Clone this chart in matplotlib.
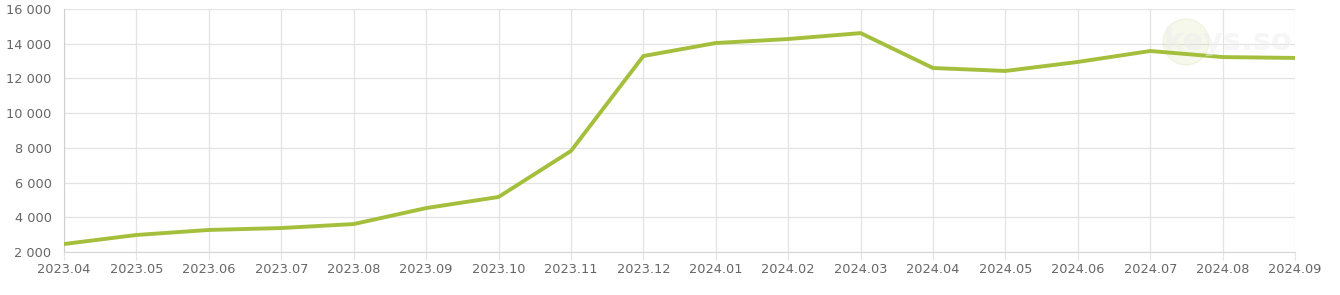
import numpy as np
import matplotlib.pyplot as plt
from matplotlib.patches import Ellipse
from matplotlib.ticker import FuncFormatter

months = ['2023.04', '2023.05', '2023.06', '2023.07', '2023.08', '2023.09',
          '2023.10', '2023.11', '2023.12', '2024.01', '2024.02', '2024.03',
          '2024.04', '2024.05', '2024.06', '2024.07', '2024.08', '2024.09']
values = [2460, 2980, 3270, 3380, 3610, 4530, 5170, 7820, 13290, 14040,
          14270, 14610, 12600, 12430, 12950, 13580, 13230, 13180]
yticks = [2000, 4000, 6000, 8000, 10000, 12000, 14000, 16000]

fig = plt.figure(figsize=(13.4, 2.95), dpi=100)
ax = fig.add_axes([0.0478, 0.1458, 0.9187, 0.8237])

x = np.arange(len(months))
ax.plot(x, values, color='#a3bf3c', lw=2.8, solid_joinstyle='miter', zorder=3)

ax.set_xlim(0, len(months) - 1)
ax.set_ylim(2000, 16000)
ax.set_xticks(x)
ax.set_xticklabels(months)
ax.set_yticks(yticks)
ax.yaxis.set_major_formatter(FuncFormatter(lambda v, p: f'{int(v):,}'.replace(',', ' ')))

ax.grid(True, color='#e3e3e3', lw=0.9)
for s in ax.spines.values():
    s.set_visible(False)
ax.spines['left'].set_visible(True)
ax.spines['left'].set_color('#d0d0d0')
ax.spines['bottom'].set_visible(True)
ax.spines['bottom'].set_color('#d6d6d6')
ax.tick_params(axis='x', length=6, color='#e3e3e3', labelsize=9.3, labelcolor='#666666', pad=2)
ax.tick_params(axis='y', length=0, labelsize=9.3, labelcolor='#666666', pad=9)

# watermark
fig.patches.append(Ellipse((1186 / 1340, 1 - 42 / 295), 46 / 1340, 46 / 295,
                           transform=fig.transFigure, color='#a3bf3c', alpha=0.1, zorder=0))
fig.text(1228 / 1340, 1 - 42 / 295, 'keys.so', ha='center', va='center',
         fontsize=22, fontweight='bold', color='#eeeeee', alpha=0.5, zorder=1)

fig.savefig('out.png', dpi=100)
